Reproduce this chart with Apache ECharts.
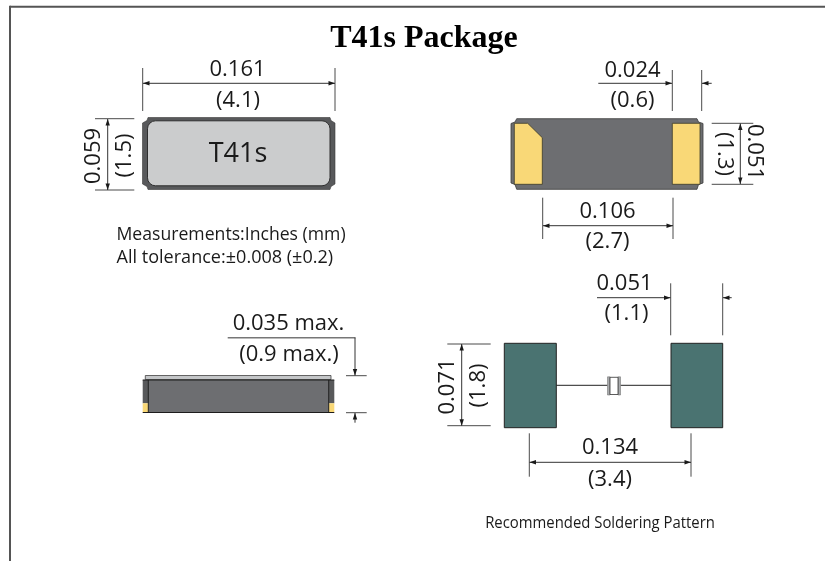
<!DOCTYPE html>
<html><head><meta charset="utf-8">
<style>html,body{margin:0;padding:0;background:#fff}#c{width:825px;height:561px}</style>
<script src="https://cdn.jsdelivr.net/npm/echarts@6/dist/echarts.min.js"></script>
</head><body><div id="c"></div>
<script>
// Drawing units are the sheet's own units; the hidden axes scale them onto the canvas.
const titleText = 'T41s Package';
const sheetWidth = 825, sheetHeight = 561;

const dimensionLabels = [
  ['0.161', 237.5, 69.5, 0], ['(4.1)', 238, 100.5, 0],
  ['0.059', 93.5, 156, 90], ['(1.5)', 125, 155.5, 90],
  ['0.024', 632.5, 70.5, 0], ['(0.6)', 632.5, 100.5, 0],
  ['(1.3)', 724, 154, -90], ['0.051', 754.5, 152, -90],
  ['0.106', 607.5, 211.5, 0], ['(2.7)', 607.5, 242, 0],
  ['0.035 max.', 288.5, 324, 0], ['(0.9 max.)', 289, 354.5, 0],
  ['0.051', 624.5, 284, 0], ['(1.1)', 626.5, 313.5, 0],
  ['0.071', 447.5, 386.5, 90], ['(1.8)', 479, 385.5, 90],
  ['0.134', 610, 448, 0], ['(3.4)', 610, 479.5, 0]
];
const partLabel = ['T41s', 238, 154];
const noteLabels = [
  ['Measurements:Inches (mm)', 116.5, 235], ['All tolerance:±0.008 (±0.2)', 116.5, 258]
];
const captionLabel = ['Recommended Soldering Pattern', 600, 524];

const frameLines = [[10, 6.7, 825, 6.7], [10, 5.7, 10, 561]];
const topOutline = [[148,117.5],[330,117.5],[331,120.5],[335,123],[335,184],[331,186.5],[330,189.5],[148,189.5],[147,186.5],[142.5,184],[142.5,123],[147,120.5]];
const topPanel = [147.5, 120.8, 330, 185.8, 8];
const bottomOutline = [[516.7,118.7],[697,118.7],[698.5,122],[703,123.5],[703,183],[698.5,184.5],[697,189.3],[516.7,189.3],[515,184.5],[511,183],[511,123.5],[515,122]];
const notchedPad = [[514.3,123.3],[527.7,123.3],[542.3,137.7],[542.3,184.3],[514.3,184.3]];
const squarePad = [[672.3,123.3],[700,123.3],[700,184.3],[672.3,184.3]];
const sideLid = [[145.3,375.5],[331,375.5],[331,379.5],[145.3,379.5]];
const sideBody = [[148.3,380],[328.7,380],[328.7,412.3],[148.3,412.3]];
const sideCaps = [
  [[142.7,380],[148.3,380],[148.3,403.3],[142.7,403.3]],
  [[328.7,380],[334.3,380],[334.3,403.3],[328.7,403.3]]
];
const sideTerminals = [
  [[142.7,403.3],[148.3,403.3],[148.3,412.3],[142.7,412.3]],
  [[328.7,403.3],[334.3,403.3],[334.3,412.3],[328.7,412.3]]
];
const solderPads = [
  [[504.3,343.3],[556.3,343.3],[556.3,427.7],[504.3,427.7]],
  [[671,343.3],[722.7,343.3],[722.7,427.7],[671,427.7]]
];
const crystalPlates = [
  [[607.5,376.8],[610,376.8],[610,395],[607.5,395]],
  [[618,376.8],[620.5,376.8],[620.5,395],[618,395]]
];
const crystalBody = [[610,377.3],[618,377.3],[618,394.5],[610,394.5]];
const wireLines = [[556.3,385.3,607.5,385.3],[620.5,385.3,671,385.3]];
const sideEdgeLines = [[142.7,380,334.3,380],[142.7,412.5,334.3,412.5],[148.3,380,148.3,412.5],[328.7,380,328.7,412.5]];
const extensionLines = [
  [142.7,68,142.7,111],[335,68,335,111],[95,118.7,134.3,118.7],[95,190,134.3,190],
  [672.3,70,672.3,111],[701.7,70,701.7,111],[711.7,123.3,753.3,123.3],[711.7,184.3,753.3,184.3],
  [542.7,197.7,542.7,239],[673,197.7,673,239],
  [346,375.7,366.7,375.7],[346,412.7,366.7,412.7],
  [670.7,283.3,670.7,335.3],[722.7,283.3,722.7,335.3],[447.3,344,490.7,344],[447.3,425.7,490.7,425.7],
  [529.3,433.3,529.3,476.7],[691,433.3,691,476.7]
];
const leaderLines = [[227.7,337.7,355.5,337.7]];
// x1, y1, x2, y2, head at start, head at end
const arrowLines = [
  [143,83.3,335,83.3,1,1],[107.7,119,107.7,190,1,1],
  [598.3,83.3,672,83.3,0,1],[702,83.3,711.7,83.3,1,0],[740.3,123.5,740.3,184,1,1],
  [543,225.7,673,225.7,1,1],
  [355,337.7,355,375.5,0,1],[355,413,355,422.7,1,0],
  [597,297.7,670.5,297.7,0,1],[723,297.7,731.7,297.7,1,0],[461.7,344,461.7,425.7,1,1],
  [529.5,462.3,691,462.3,1,1]
];

const textFont = '"Open Sans", sans-serif';
const inkGrey = '#4a4a4a';
const noteScale = [0.953, 0.976];

function polyEl(api, pts, fill, stroke, lw) {
  return { type: 'polygon', shape: { points: pts.map(p => api.coord(p)) },
           style: { fill, stroke: stroke || 'none', lineWidth: lw || 0 } };
}
function segEl(api, s, stroke, lw) {
  const a = api.coord([s[0], s[1]]), b = api.coord([s[2], s[3]]);
  return { type: 'line', shape: { x1: a[0], y1: a[1], x2: b[0], y2: b[1] },
           style: { stroke, lineWidth: lw, fill: 'none' } };
}
function headEl(api, x, y, dx, dy) {
  const len = 6.5, half = 2.2;
  const tip = api.coord([x, y]), bx = x - dx * len, by = y - dy * len;
  const p1 = api.coord([bx - dy * half, by - dx * half]), p2 = api.coord([bx + dy * half, by + dx * half]);
  return { type: 'polygon', shape: { points: [tip, p1, p2] }, style: { fill: '#1a1a1a' } };
}
function textEl(api, t, x, y, size, rot, color, sx, align) {
  const c = api.coord([x, y]);
  return { type: 'text', x: c[0], y: c[1], rotation: (rot || 0) * Math.PI / 180, scaleX: sx || 1, scaleY: 1,
           style: { text: t, font: size + 'px ' + textFont, fill: color || '#1a1a1a',
                    align: align || 'center', verticalAlign: 'middle' } };
}
function drawing(params, api) {
  const ch = [];
  frameLines.forEach(s => ch.push(segEl(api, s, '#555', 2)));
  // top view
  ch.push(polyEl(api, topOutline, '#58595b', '#3a3a3a', 0.6));
  const a = api.coord([topPanel[0], topPanel[1]]), b = api.coord([topPanel[2], topPanel[3]]);
  ch.push({ type: 'rect', shape: { x: a[0], y: a[1], width: b[0] - a[0], height: b[1] - a[1], r: topPanel[4] },
            style: { fill: '#cbcccd', stroke: '#2e2e2e', lineWidth: 1 } });
  // bottom view
  ch.push(polyEl(api, bottomOutline, '#6d6e71', '#3a3a3a', 0.8));
  ch.push(polyEl(api, notchedPad, '#f9d877', '#3a3a2a', 0.8));
  ch.push(polyEl(api, squarePad, '#f9d877', '#3a3a2a', 0.8));
  // side view
  ch.push(polyEl(api, sideLid, '#c4c6c8', '#444', 0.8));
  ch.push(polyEl(api, sideBody, '#6d6e71'));
  sideCaps.forEach(p => ch.push(polyEl(api, p, '#58595b')));
  sideTerminals.forEach(p => ch.push(polyEl(api, p, '#f9d877')));
  sideEdgeLines.forEach(s => ch.push(segEl(api, s, '#1c1c1c', 1)));
  // soldering pattern
  solderPads.forEach(p => ch.push(polyEl(api, p, '#4a7371', '#222', 1)));
  wireLines.forEach(s => ch.push(segEl(api, s, '#222', 1)));
  crystalPlates.forEach(p => ch.push(polyEl(api, p, '#a9abad', '#666', 0.5)));
  ch.push(polyEl(api, crystalBody, '#fff', '#333', 0.8));
  // dimensions
  extensionLines.forEach(s => ch.push(segEl(api, s, inkGrey, 1)));
  leaderLines.forEach(s => ch.push(segEl(api, s, '#777', 1.5)));
  arrowLines.forEach(s => {
    ch.push(segEl(api, s, '#333', 1));
    const L = Math.hypot(s[2] - s[0], s[3] - s[1]), dx = (s[2] - s[0]) / L, dy = (s[3] - s[1]) / L;
    if (s[4]) ch.push(headEl(api, s[0], s[1], -dx, -dy));
    if (s[5]) ch.push(headEl(api, s[2], s[3], dx, dy));
  });
  dimensionLabels.forEach(l => ch.push(textEl(api, l[0], l[1], l[2], 22, l[3], '#1a1a1a', 1)));
  ch.push(textEl(api, partLabel[0], partLabel[1], partLabel[2], 27, 0, '#1a1a1a', 1));
  noteLabels.forEach((l, i) => ch.push(textEl(api, l[0], l[1], l[2], 18.5, 0, '#1a1a1a', noteScale[i], 'left')));
  ch.push(textEl(api, captionLabel[0], captionLabel[1], captionLabel[2], 15.5, 0, '#1a1a1a', 0.96));
  return { type: 'group', children: ch };
}

const chart = echarts.init(document.getElementById('c'), null, { renderer: 'canvas' });
chart.setOption({
  animation: false,
  backgroundColor: '#fff',
  title: { text: titleText, left: 424, top: 23, textAlign: 'center', padding: 0,
           textStyle: { fontFamily: '"Liberation Serif", serif', fontWeight: 'bold', fontSize: 32, color: '#000' } },
  grid: { left: 0, right: 0, top: 0, bottom: 0 },
  xAxis: { type: 'value', min: 0, max: sheetWidth, show: false },
  yAxis: { type: 'value', min: 0, max: sheetHeight, inverse: true, show: false },
  series: [{ type: 'custom', coordinateSystem: 'cartesian2d', clip: false, silent: true,
             renderItem: drawing, data: [[0, 0]] }]
});
</script></body></html>
